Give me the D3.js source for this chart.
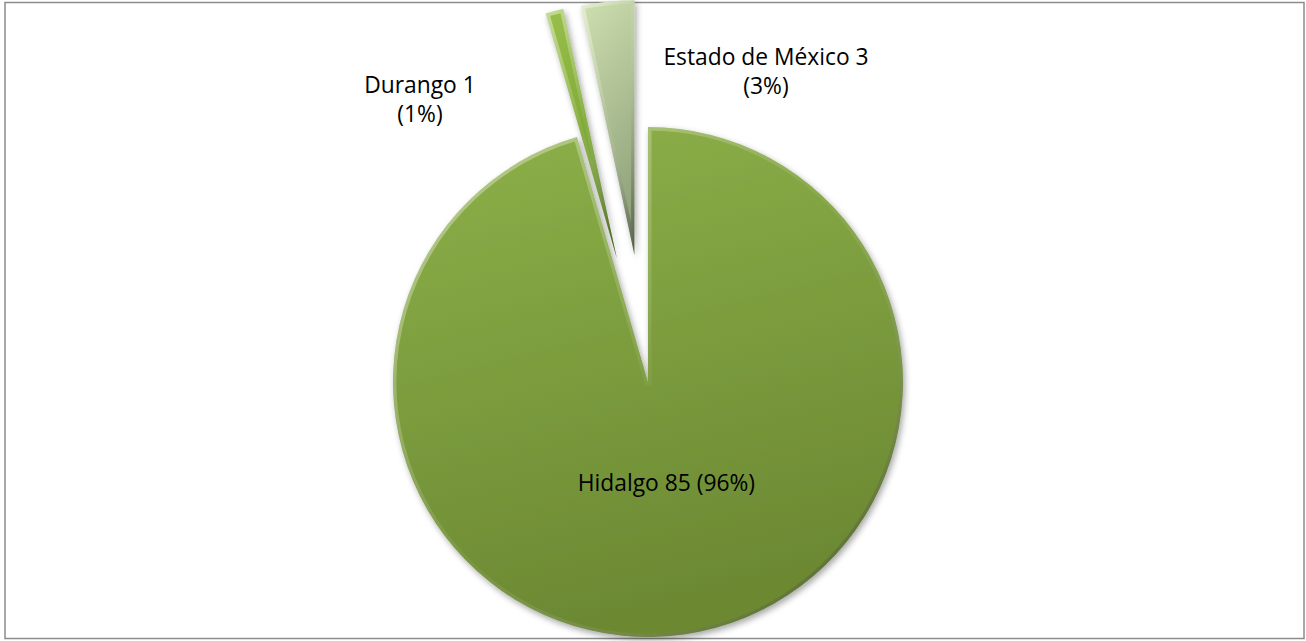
<!DOCTYPE html>
<html>
<head>
<meta charset="utf-8">
<script src="https://cdn.jsdelivr.net/npm/d3@7"></script>
<style>
  body { margin: 0; background: #fff; }
  svg text { font-family: "Open Sans", Lato, sans-serif; fill: #000; }
</style>
</head>
<body>
<svg id="chart"></svg>
<script>
// data
const states = ["Hidalgo", "Durango", "Estado de México"];
const counts = [85, 1, 3];
const percents = ["96%", "1%", "3%"];
const explode = [0, 0.5, 0.5];

const width = 1306, height = 641;
const cx = 648, cy = 382, radius = 255;
const fontSize = 22.8;

const fills = [
    ["#8db149", "#6c8933"],
    ["#99c04a", "#6f9a2c"],
    ["#cfe0b0", "#8fa27a"]
];

const svg = d3.select("#chart")
    .attr("width", width)
    .attr("height", height);

// chart frame
svg.append("rect")
    .attr("x", 5).attr("y", 2.5)
    .attr("width", 1299).attr("height", 636)
    .attr("fill", "#fff")
    .attr("stroke", "#8c8c8c")
    .attr("stroke-width", 1.5);

const defs = svg.append("defs");

const shadow = defs.append("filter").attr("id", "shadow")
    .attr("x", "-20%").attr("y", "-20%").attr("width", "140%").attr("height", "140%");
shadow.append("feDropShadow")
    .attr("dx", 2).attr("dy", 3).attr("stdDeviation", 3)
    .attr("flood-color", "#000").attr("flood-opacity", 0.35);

fills.forEach((f, i) => {
    const g = defs.append("linearGradient").attr("id", `fill${i}`)
        .attr("x1", 0).attr("y1", 0).attr("x2", 0.25).attr("y2", 1);
    g.append("stop").attr("offset", "0%").attr("stop-color", f[0]);
    g.append("stop").attr("offset", "100%").attr("stop-color", f[1]);
});

// bevel rim: light at top-left, dark at bottom-right
const rim = defs.append("linearGradient").attr("id", "rim")
    .attr("x1", 0).attr("y1", 0).attr("x2", 1).attr("y2", 1);
rim.append("stop").attr("offset", "0%").attr("stop-color", "#fff").attr("stop-opacity", 0.45);
rim.append("stop").attr("offset", "50%").attr("stop-color", "#fff").attr("stop-opacity", 0.05);
rim.append("stop").attr("offset", "100%").attr("stop-color", "#000").attr("stop-opacity", 0.45);

const pie = d3.pie().sort(null).value(d => d)(counts);
const arc = d3.arc().innerRadius(0).outerRadius(radius);

const g = svg.append("g").attr("transform", `translate(${cx},${cy})`);

function offset(d, i) {
    const a = (d.startAngle + d.endAngle) / 2;
    const k = explode[i] * radius;
    return [Math.sin(a) * k, -Math.cos(a) * k];
}

const slices = g.selectAll("g.slice")
    .data(pie)
    .enter().append("g")
    .attr("class", "slice")
    .attr("transform", (d, i) => {
        const o = offset(d, i);
        return `translate(${o[0]},${o[1]})`;
    });

slices.append("clipPath")
    .attr("id", (d, i) => `clip${i}`)
    .append("path").attr("d", arc);

slices.append("path")
    .attr("d", arc)
    .attr("fill", (d, i) => `url(#fill${i})`)
    .attr("filter", "url(#shadow)");

slices.append("path")
    .attr("d", arc)
    .attr("fill", "none")
    .attr("stroke", "url(#rim)")
    .attr("stroke-width", 7)
    .attr("stroke-linejoin", "round")
    .attr("clip-path", (d, i) => `url(#clip${i})`);

// labels (baseline of the first line, relative to the pie centre)
const labelPos = [null, [-228, -289], [118, -317]];
const lineGap = 29;

pie.forEach((d, i) => {
    if (i === 0) {
        const a = (d.startAngle + d.endAngle) / 2;
        const r = radius * 0.43;
        g.append("text")
            .attr("x", Math.sin(a) * r + 3)
            .attr("y", -Math.cos(a) * r)
            .attr("text-anchor", "middle")
            .attr("font-size", fontSize)
            .text(`${states[i]} ${counts[i]} (${percents[i]})`);
    } else {
        const t = g.append("text")
            .attr("text-anchor", "middle")
            .attr("font-size", fontSize);
        t.append("tspan")
            .attr("x", labelPos[i][0]).attr("y", labelPos[i][1])
            .text(`${states[i]} ${counts[i]}`);
        t.append("tspan")
            .attr("x", labelPos[i][0]).attr("y", labelPos[i][1] + lineGap)
            .text(`(${percents[i]})`);
    }
});
</script>
</body>
</html>
